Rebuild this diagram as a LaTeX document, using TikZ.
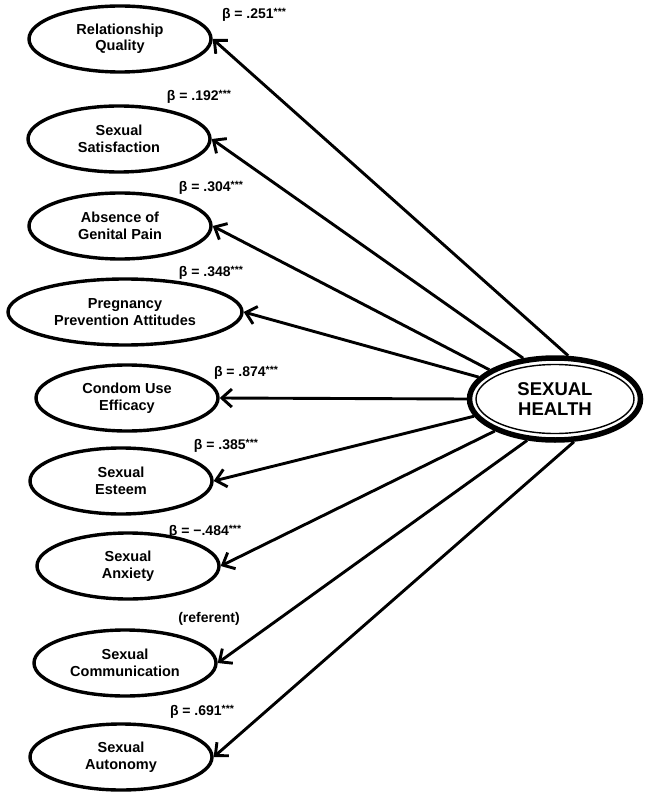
\documentclass[tikz,border=0pt]{standalone}
\usepackage{fontspec}
\setmainfont{Liberation Sans}
\usetikzlibrary{positioning}
\usetikzlibrary{shapes.geometric, arrows.meta}

\newcommand{\stars}{\raisebox{3.5pt}{\fontsize{10.5}{10.5}\selectfont ***}}

\begin{document}
\begin{tikzpicture}[x=1pt,y=-1pt,
    factor/.style={ellipse, draw, line width=3.4pt, minimum width=182pt, minimum height=66pt,
        inner sep=0pt, align=center, font=\fontsize{14.5}{16.5}\selectfont\bfseries},
    beta/.style={font=\fontsize{14}{16}\selectfont\bfseries, inner sep=0pt},
    load/.style={line width=2.9pt, -{Straight Barb[length=10pt,width=18pt]}}]
    \useasboundingbox (0,0) rectangle (649,799);

    % latent factor
    \node[ellipse, draw, line width=5.5pt, minimum width=171pt, minimum height=82pt, inner sep=0pt,
        align=center, font=\fontsize{18.5}{20.5}\selectfont\bfseries] (sh) at (555,399) {SEXUAL\\HEALTH};
    \node[ellipse, draw, line width=1.4pt, minimum width=158pt, minimum height=69pt] (shin) at (sh.center) {};

    % indicators
    \node[factor] (rq) at (120,39) {Relationship\\Quality};
    \node[factor] (ss) at (119,139) {Sexual\\Satisfaction};
    \node[factor] (agp) at (120,226) {Absence of\\Genital Pain};
    \node[factor, minimum width=234pt] (ppa) at (125,312) {Pregnancy\\Prevention Attitudes};
    \node[factor] (cue) at (127,398) {Condom Use\\Efficacy};
    \node[factor] (se) at (121,481) {Sexual\\Esteem};
    \node[factor] (sa) at (128,566) {Sexual\\Anxiety};
    \node[factor] (sc) at (125,663) {Sexual\\Communication};
    \node[factor] (sau) at (121,757) {Sexual\\Autonomy};

    % loadings
    \draw[load] (sh.73) -- (rq.east);
    \draw[load] (sh.128) -- (ss.east);
    \draw[load] (sh.156) -- (agp.east);
    \draw[load] (sh.164) -- (ppa.east);
    \draw[load] (sh.180) -- (cue.east);
    \draw[load] (sh.192) -- (se.east);
    \draw[load] (sh.208) -- (sa.east);
    \draw[load] (sh.236) -- (sc.east);
    \draw[load] (sh.294) -- (sau.east);

    \node[beta] (brq) at (254,15) {β = .251\stars};
    \node[beta] (bss) at (199,97) {β = .192\stars};
    \node[beta] (bagp) at (211,188) {β = .304\stars};
    \node[beta] (bppa) at (211,273) {β = .348\stars};
    \node[beta] (bcue) at (246,373) {β = .874\stars};
    \node[beta] (bse) at (226,446) {β = .385\stars};
    \node[beta] (bsa) at (205,532) {β = −.484\stars};
    \node[beta] (bsc) at (209,619) {(referent)};
    \node[beta] (bsau) at (202,712) {β = .691\stars};
\end{tikzpicture}
\end{document}
